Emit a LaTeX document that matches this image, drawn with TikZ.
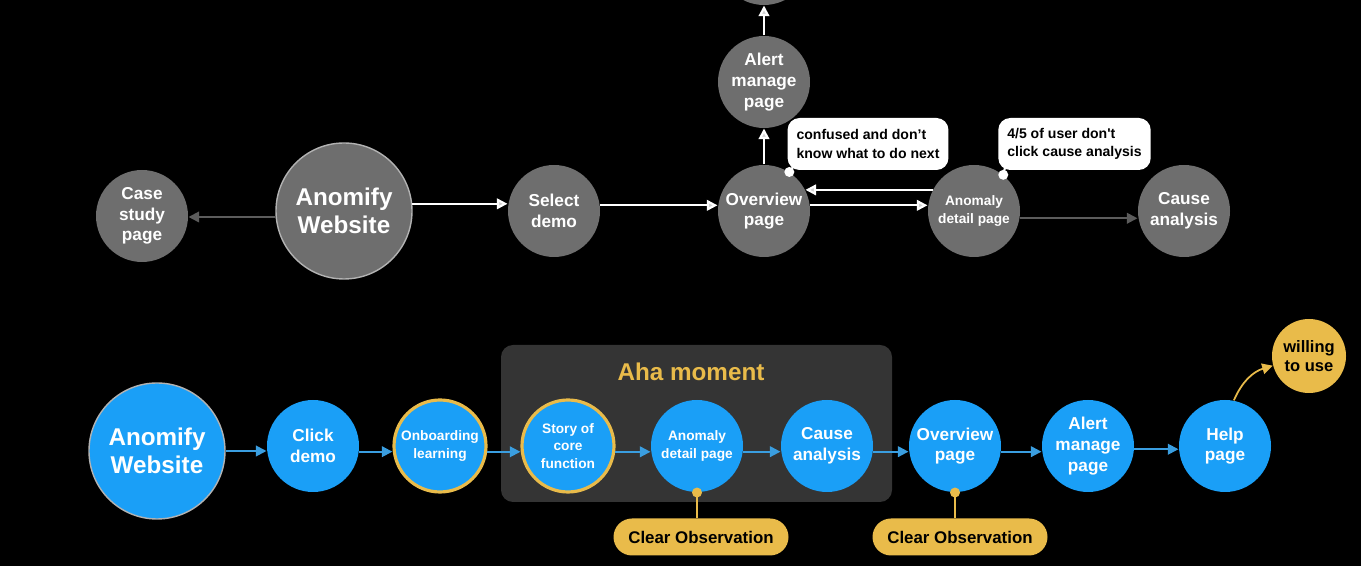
\documentclass[tikz,border=0pt]{standalone}
\usepackage{fontspec}
\setmainfont{Liberation Sans}
\usepackage{xcolor}
\usepackage{tikz}
\usetikzlibrary{arrows.meta,positioning,calc,shapes}

\definecolor{nodegray}{HTML}{6E6E6E}
\definecolor{edgegray}{HTML}{5C5C5C}
\definecolor{flowblue}{HTML}{1A9FF7}
\definecolor{lineblue}{HTML}{3A9EE0}
\definecolor{ahayellow}{HTML}{E9BB4A}
\definecolor{ahagray}{HTML}{343434}

\begin{document}
\begin{tikzpicture}[auto,node distance=4.2cm,semithick]
			\tikzstyle{grey state}=[circle,fill=nodegray,text=white,minimum size=1.84cm,inner sep=0pt,align=center,font=\fontsize{9.8}{11.8}\selectfont\bfseries,execute at begin node={\rule{0pt}{13pt}}]
			\tikzstyle{blue state}=[grey state,fill=flowblue]
			\tikzstyle{big state}=[minimum size=2.72cm,draw=gray!60,line width=0.8pt,font=\fontsize{13.8}{16}\selectfont\bfseries,execute at begin node={\rule{0pt}{14pt}}]
			\tikzstyle{aha state}=[draw=ahayellow,line width=1.8pt]
			\tikzstyle{small text}=[font=\fontsize{7.8}{10}\selectfont\bfseries,execute at begin node={\rule{0pt}{9pt}}]
			\tikzstyle{note}=[rectangle,rounded corners=0.24cm,fill=white,text=black,align=left,minimum height=1.04cm,inner xsep=0.18cm,font=\fontsize{8}{10.5}\selectfont\bfseries]
			\tikzstyle{obs}=[rectangle,rounded corners=0.37cm,fill=ahayellow,text=black,minimum width=3.5cm,minimum height=0.74cm,font=\fontsize{9.6}{11}\selectfont\bfseries]
			\tikzstyle{wline}=[draw=white,line width=1.2pt,-{Triangle[length=6pt,width=6pt,fill=gray!35]}]
			\tikzstyle{gline}=[draw=edgegray,line width=1.1pt,-{Triangle[length=6pt,width=6pt]}]
			\tikzstyle{bline}=[draw=lineblue,line width=1.1pt,-{Triangle[length=6pt,width=6pt]}]
			\tikzstyle{yline}=[draw=ahayellow,line width=1pt,-{Triangle[length=6pt,width=6pt]}]
			
			\fill[black] (0,0) rectangle (27.22,11.32);
			\useasboundingbox (0,0) rectangle (27.22,11.32);
			
			% top flow
			\node[grey state, big state]    (T1) at (6.88,7.10)              {Anomify\\Website};
			\node[grey state]    (T0)[left of = T1, xshift=0.16cm, yshift=-0.1cm]	{Case\\study\\page};
			\node[grey state]    (T2)[right of = T1]		{Select\\demo};
			\node[grey state]    (T3)[right of = T2]		{Overview\\page};
			\node[grey state]    (T4)[above of = T3, yshift=-1.62cm]		{Alert\\manage\\page};
			\node[grey state]    (T5)[above of = T4, yshift=-1.74cm]		{};
			\node[grey state, small text]    (T6)[right of = T3]		{Anomaly\\detail page};
			\node[grey state]    (T7)[right of = T6]		{Cause\\analysis};
			
			\node[note]    (N1) at (17.36,8.44)		{confused and don't\\know what to do next};
			\node[note]    (N2) at (21.49,8.44)		{4/5 of user don\textquotesingle t\\click cause analysis};
			\fill[white] (T3.57) circle (0.1cm);
			\fill[white] (T6.51) circle (0.1cm);
			\draw[white,line width=1.2pt] (T3.57) -- ($(N1.south west)+(0.16,0.12)$);
			\draw[white,line width=1.2pt] (T6.51) -- ($(N2.south west)+(0.16,0.12)$);
			
			\path
			(T1.185) edge[gline] (T1.185 -| T0.east)
			(T1.6) edge[wline] (T1.6 -| T2.west)
			(T2.7) edge[wline] (T2.7 -| T3.west)
			(T3.7) edge[wline] (T3.7 -| T6.west)
			(T6.153) edge[wline] (T3.27)
			(T6.-9) edge[gline] (T6.-9 -| T7.west)
			(T3) edge[wline] (T4)
			(T4) edge[wline] (T5);
			
			% bottom flow
			\fill[ahagray, rounded corners=0.24cm] (10.02,1.28) rectangle (17.84,4.42);
			\node[text=ahayellow, font=\fontsize{13.8}{16}\selectfont\bfseries] (aha) at (13.82,3.88) {Aha moment};
			
			\node[blue state, big state]    (B1) at (3.14,2.30)              {Anomify\\Website};
			\node[blue state]    (B2)[right of = B1, xshift=-1.08cm, yshift=0.1cm]	{Click\\demo};
			\node[blue state, aha state, small text]    (B3)[right of = B2, xshift=-1.66cm]	{Onboarding\\learning};
			\node[blue state, aha state, small text]    (B4)[right of = B3, xshift=-1.64cm]	{Story of\\core\\function};
			\node[blue state, small text]    (B5)[right of = B4, xshift=-1.62cm]	{Anomaly\\detail page};
			\node[blue state]    (B6)[right of = B5, xshift=-1.6cm]	{Cause\\analysis};
			\node[blue state]    (B7)[right of = B6, xshift=-1.64cm]	{Overview\\page};
			\node[blue state]    (B8)[right of = B7, xshift=-1.54cm]	{Alert\\manage\\page};
			\node[blue state]    (B9)[right of = B8, xshift=-1.46cm]	{Help\\page};
			\node[grey state, fill=ahayellow, text=black, minimum size=1.48cm, font=\fontsize{9.4}{11.2}\selectfont\bfseries]    (B10) at ($(B9)+(1.68,1.8)$)	{willing\\to use};
			
			\node[obs]    (O1)[below of = B5, node distance=1.82cm, xshift=0.08cm]	{Clear Observation};
			\node[obs]    (O2)[below of = B7, node distance=1.82cm, xshift=0.1cm]	{Clear Observation};
			\draw[ahayellow,line width=1pt] (B5.south) -- (B5.south |- O1.north);
			\draw[ahayellow,line width=1pt] (B7.south) -- (B7.south |- O2.north);
			\fill[ahayellow] (B5.south) circle (0.1cm);
			\fill[ahayellow] (B7.south) circle (0.1cm);
			
			\path
			(B1.east) edge[bline] (B1.east -| B2.west)
			(B2.-7) edge[bline] (B2.-7 -| B3.west)
			(B3.-7) edge[bline] (B3.-7 -| B4.west)
			(B4.-7) edge[bline] (B4.-7 -| B5.west)
			(B5.-7) edge[bline] (B5.-7 -| B6.west)
			(B6.-7) edge[bline] (B6.-7 -| B7.west)
			(B7.-7) edge[bline] (B7.-7 -| B8.west)
			(B8.-4) edge[bline] (B8.-4 -| B9.west)
			(B9.79) edge[yline, bend left=25] (B10.195);
\end{tikzpicture}
\end{document}
